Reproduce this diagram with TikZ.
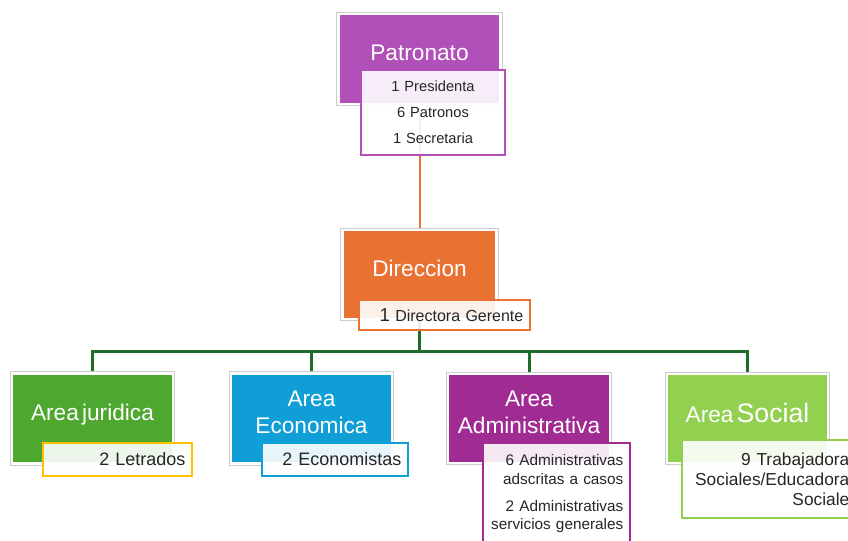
\documentclass[tikz,border=0pt]{standalone}
\usepackage{fontspec}
\setmainfont[WordSpace=0.5]{Liberation Sans}
\usepackage{tikz}
\pgfdeclarelayer{bg}
\pgfsetlayers{bg,main}
\definecolor{patron}{HTML}{B150B8}
\definecolor{direc}{HTML}{E97132}
\definecolor{jurid}{HTML}{4EA72E}
\definecolor{econ}{HTML}{0F9ED5}
\definecolor{admin}{HTML}{A02B93}
\definecolor{social}{HTML}{92D050}
\definecolor{gold}{HTML}{FFC000}
\definecolor{busgreen}{HTML}{1E6B2A}

\begin{document}
\begin{tikzpicture}[x=0.75pt, y=-0.75pt,
        mainbox/.style={rectangle, fill=#1, draw=white, line width=2pt,
            preaction={draw=black!20, line width=3.2pt},
            minimum width=120.75pt, minimum height=67.5pt, text=white,
            font=\fontsize{17}{20}\selectfont, align=center, text depth=9pt},
        subbox/.style={rectangle, draw=#1, line width=2pt, fill=white, fill opacity=0.9,
            text opacity=1, text=black!85, inner xsep=5pt, inner ysep=2pt, align=right},
        oline/.style={draw=direc, line width=1.5pt},
        gline/.style={draw=busgreen, line width=2.25pt}]
        \clip (0,0) rectangle (848,540);
        \node[mainbox=patron, minimum width=121.5pt] (P) at (419.5,59) {Patronato};
        \node[subbox=patron, text width=98pt, minimum height=63.75pt, align=center,
            font=\fontsize{11}{19.5}\selectfont] (Pd) at (433,112.5) {1 Presidenta\\6 Patronos\\1 Secretaria};
        \node[mainbox=direc, minimum width=115.5pt, minimum height=66.75pt] (D) at (419.5,274.5) {Direccion};
        \node[subbox=direc, text width=118.25pt, minimum height=22.5pt,
            font=\fontsize{12}{14}\selectfont] (Dd) at (444.5,315) {{\fontsize{14}{14}\selectfont 1} Directora Gerente};
        \node[mainbox=jurid] (J) at (92.5,418.5) {Area juridica};
        \node[subbox=gold, text width=101.75pt, minimum height=24.75pt,
            font=\fontsize{13.5}{16}\selectfont] (Jd) at (117.5,459.5) {2 Letrados};
        \node[mainbox=econ] (E) at (311.5,418.5) {Area\\Economica};
        \node[subbox=econ, text width=99.5pt, minimum height=24.75pt,
            font=\fontsize{13.5}{16}\selectfont] (Ed) at (335,459.5) {2 Economistas};
        \node[mainbox=admin, minimum width=121.5pt, minimum height=66.75pt] (A) at (529,418.5) {Area\\Administrativa};
        \node[subbox=admin, text width=100.25pt, minimum height=76.5pt,
            font=\fontsize{11.5}{14}\selectfont] (Ad) at (556.5,494) {6 Administrativas\\adscritas a casos\\[6pt]2 Administrativas\\servicios generales};
        \node[mainbox=social, minimum height=66.75pt] (S) at (747.5,418.5) {Area {\fontsize{20}{20}\selectfont Social}};
        \node[subbox=social, text width=120.5pt, minimum height=58.5pt,
            font=\fontsize{13}{15}\selectfont] (Sd) at (769,479) {9 Trabajadora\\Sociales/Educadora\\Sociale};
        \coordinate (bus) at (419.5,351);
        \begin{pgfonlayer}{bg}
            \fill[white] (0,0) rectangle (848,540);
            \draw[oline] (P.south) -- (D.north);
            \draw[gline] (D.south) -- (bus);
            \draw[gline] (J.north) |- (bus) -| (S.north);
            \draw[gline] (E.north) |- (bus) -| (A.north);
        \end{pgfonlayer}
    \end{tikzpicture}
\end{document}
